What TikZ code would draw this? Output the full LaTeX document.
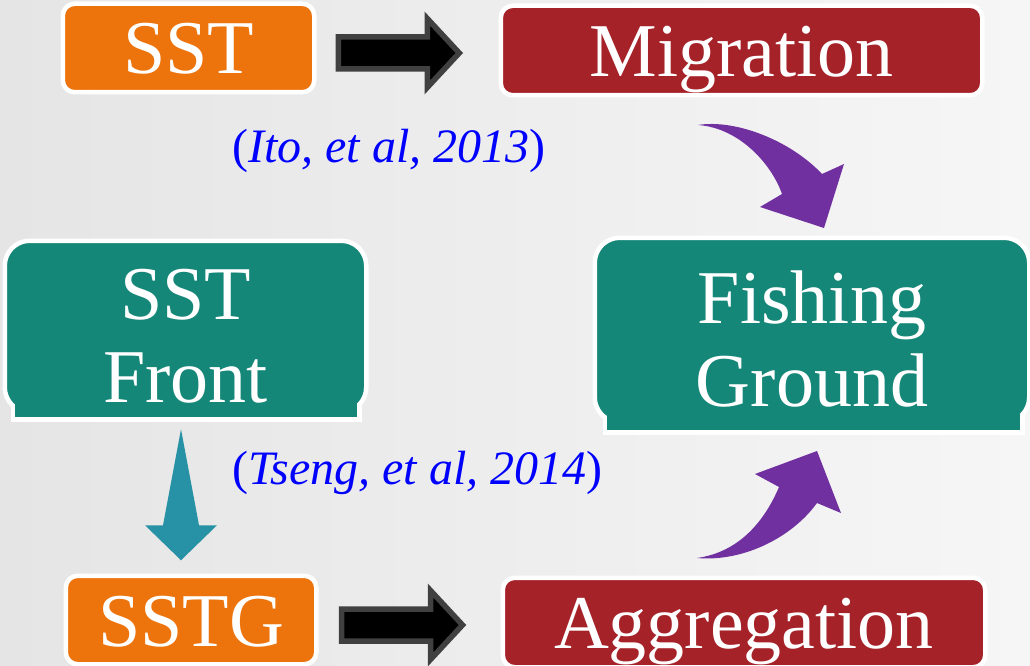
\documentclass[tikz,border=0pt]{standalone}
\usepackage{fontspec}
\setmainfont{Liberation Serif}
\definecolor{bgleft}{RGB}{229,229,229}
\definecolor{bgright}{RGB}{246,246,246}
\definecolor{sstorange}{RGB}{237,115,12}
\definecolor{effectred}{RGB}{166,34,41}
\definecolor{frontteal}{RGB}{21,135,120}
\definecolor{downteal}{RGB}{39,146,165}
\definecolor{bendpurple}{RGB}{112,48,160}
\definecolor{arrowgray}{RGB}{64,64,64}
\definecolor{citeblue}{RGB}{0,0,255}
\begin{document}
\begin{tikzpicture}[x=1pt,y=-1pt,
  box/.style={draw=white,line width=4.5pt,rounded corners=12pt,inner sep=0pt,
    text=white,font=\fontsize{76}{83}\selectfont,text height=56pt,text depth=4pt},
  orangebox/.style={box,fill=sstorange},
  redbox/.style={box,fill=effectred},
  tealbox/.style={box,fill=frontteal,rounded corners=25pt,align=center,
    text height=152pt,text depth=0pt},
  cite/.style={anchor=west,inner sep=0pt,text=citeblue,font=\fontsize{48}{50}\selectfont},
  fatarrow/.style={fill=black,draw=arrowgray,line width=5.5pt,line join=miter},
  bentarrow/.style={fill=bendpurple}]
\useasboundingbox (0,0) rectangle (1030,666);
\shade[left color=bgleft,right color=bgright] (0,0) rectangle (1030,666);
% top row
\node[orangebox,minimum width=251.5pt,minimum height=88.5pt] (sst) at (188.5,48) {SST};
\node[redbox,minimum width=481.5pt,minimum height=89.5pt] (mig) at (741.5,50.5) {Migration};
% bottom row
\node[orangebox,minimum width=250.5pt,minimum height=88.5pt] (sstg) at (191,620) {SSTG};
\node[redbox,minimum width=482.5pt,minimum height=89.5pt] (agg) at (744,622.5) {Aggregation};
% middle boxes
\filldraw[fill=frontteal,draw=white,line width=4.5pt] (12.75,400) rectangle (359.25,419.25);
\node[tealbox,minimum width=361.5pt,minimum height=171.5pt] (front) at (185.5,326.5) {SST\\Front};
\fill[frontteal] (15,404) rectangle (357,417);
\filldraw[fill=frontteal,draw=white,line width=4.5pt] (604.75,410) rectangle (1022.25,432.25);
\node[tealbox,minimum width=434.5pt,minimum height=184.5pt] (ground) at (812,330) {Fishing\\Ground};
\fill[frontteal] (607,414) rectangle (1020,430);
% references
\node[cite] (ito) at (232,151) {(\textit{Ito, et al, 2013})};
\node[cite] (tseng) at (232,473) {(\textit{Tseng, et al, 2014})};
% arrows
\draw[fatarrow] ([xshift=21.75pt,yshift=-5pt]sst.east) -- ++(0,-16) -- ++(89,0) -- ++(0,-18.5)
  -- ++(32,34.5) -- ++(-32,34.5) -- ++(0,-18.5) -- ++(-89,0) -- cycle;
\draw[fatarrow] ([xshift=23pt,yshift=-5pt]sstg.east) -- ++(0,-16) -- ++(89,0) -- ++(0,-18.5)
  -- ++(32,34.5) -- ++(-32,34.5) -- ++(0,-18.5) -- ++(-89,0) -- cycle;
\fill[fill=downteal] ([xshift=-4.5pt,yshift=-14.75pt]front.south) -- ++(-18,96) -- ++(-18,0)
  -- ++(36,35) -- ++(36,-35) -- ++(-18,0) -- cycle;
\fill[bentarrow] (698,125) .. controls (735,119) and (790,140) .. (822,174)
  -- (844,164) -- (824,228) -- (760,207) -- (782,194)
  .. controls (772,165) and (740,128) .. (698,125) -- cycle;
\fill[bentarrow] (697,558) .. controls (740,562) and (790,540) .. (817,503)
  -- (841,513) -- (817,451) -- (755,474) -- (779,487)
  .. controls (765,520) and (740,552) .. (697,558) -- cycle;
\end{tikzpicture}
\end{document}
